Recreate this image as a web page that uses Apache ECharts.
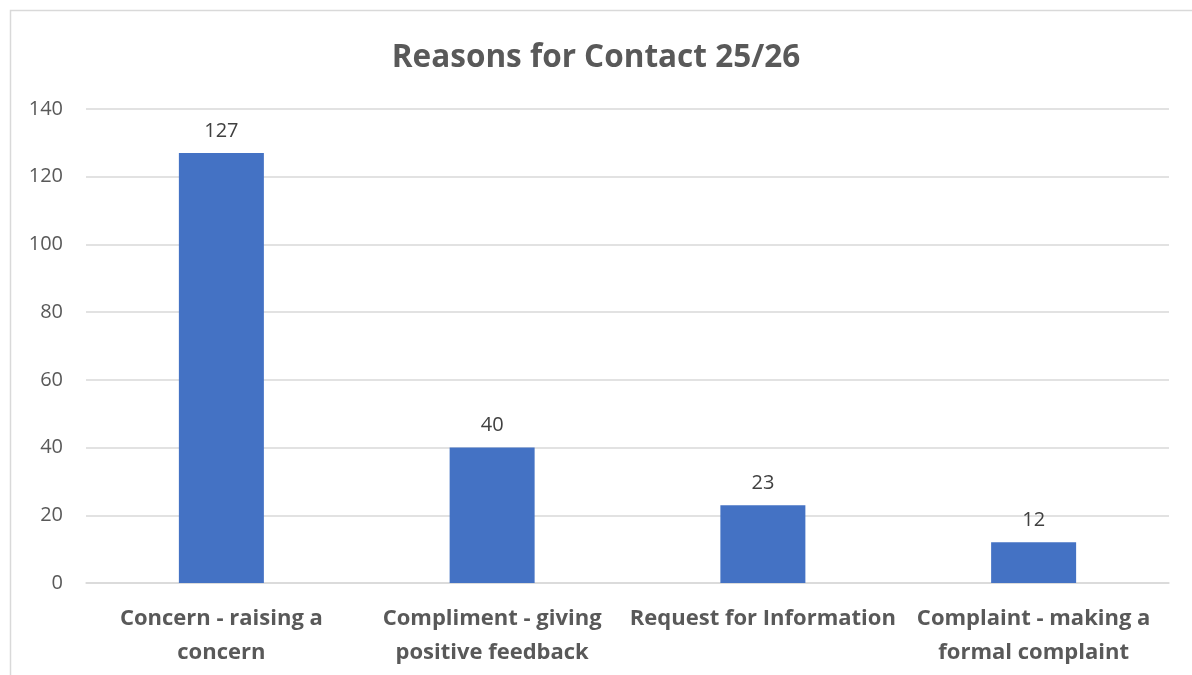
<!DOCTYPE html>
<html>
<head>
<meta charset="utf-8">
<script src="https://cdn.jsdelivr.net/npm/echarts@6/dist/echarts.min.js"></script>
<style>
html, body { margin: 0; padding: 0; background: #fff; }
#main { width: 1192px; height: 675px; }
</style>
</head>
<body>
<div id="main"></div>
<script>
var categories = ['Concern - raising a\nconcern', 'Compliment - giving\npositive feedback', 'Request for Information', 'Complaint - making a\nformal complaint'];
var counts = [127, 40, 23, 12];

var myChart = echarts.init(document.getElementById('main'));
var font = '"Open Sans", Lato, sans-serif';

var option = {
    animation: false,
    textStyle: { fontFamily: font },
    graphic: [{
        type: 'rect',
        shape: { x: 10.5, y: 10.5, width: 1200, height: 700 },
        style: { fill: 'none', stroke: '#d9d9d9', lineWidth: 1.5 },
        silent: true
    }],
    title: {
        text: 'Reasons for Contact 25/26',
        left: 'center',
        top: 37,
        textStyle: { fontSize: 31.5, fontWeight: 'bold', color: '#595959', fontFamily: font }
    },
    grid: { left: 86, right: 23, top: 109, bottom: 92, containLabel: false },
    xAxis: {
        type: 'category',
        data: categories,
        axisLine: { show: true, lineStyle: { color: '#d9d9d9', width: 1.5 } },
        axisTick: { show: false },
        axisLabel: {
            interval: 0,
            margin: 19,
            fontSize: 22,
            fontWeight: 'bold',
            color: '#595959',
            lineHeight: 34,
            fontFamily: font
        }
    },
    yAxis: {
        type: 'value',
        min: 0,
        max: 140,
        interval: 20,
        axisLine: { show: false },
        axisTick: { show: false },
        axisLabel: { fontSize: 20, color: '#595959', margin: 23, fontFamily: font },
        splitLine: { lineStyle: { color: '#d9d9d9', width: 1.5 } }
    },
    series: [{
        type: 'bar',
        data: counts,
        barWidth: 85,
        itemStyle: { color: '#4472c4' },
        label: {
            show: true,
            position: 'top',
            distance: 12,
            fontSize: 20,
            color: '#404040',
            fontFamily: font
        }
    }]
};

myChart.setOption(option);
</script>
</body>
</html>
